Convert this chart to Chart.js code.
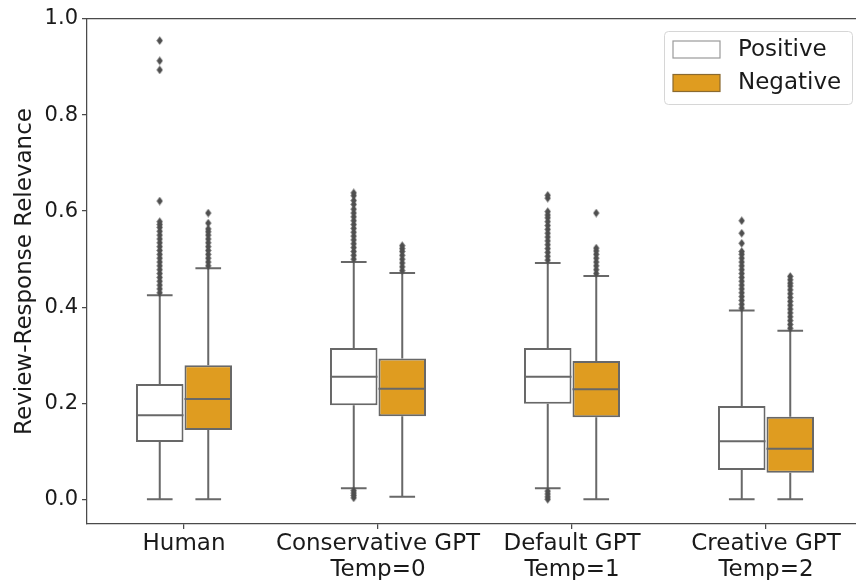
<!DOCTYPE html>
<html>
<head>
<meta charset="utf-8">
<script src="https://cdn.jsdelivr.net/npm/chart.js@4"></script>
<style>
  html, body { margin: 0; padding: 0; background: #fff; overflow: hidden; }
  #wrap { width: 866px; height: 580px; }
</style>
</head>
<body>
<div id="wrap"><canvas id="chart"></canvas></div>
<script>
// Kategorier och grupper
const categories = ['Human', ['Conservative GPT', 'Temp=0'], ['Default GPT', 'Temp=1'], ['Creative GPT', 'Temp=2']];
const hues = ['Positive', 'Negative'];
const yTicks = [0.0, 0.2, 0.4, 0.6, 0.8, 1.0];

// Positive: kvartiler, median och morrhår
const posQ1  = [0.119, 0.196, 0.199, 0.061];
const posMed = [0.175, 0.255, 0.255, 0.121];
const posQ3  = [0.240, 0.315, 0.315, 0.194];
const posLo  = [0.000, 0.023, 0.023, 0.000];
const posHi  = [0.425, 0.494, 0.492, 0.393];

// Negative
const negQ1  = [0.144, 0.173, 0.171, 0.055];
const negMed = [0.209, 0.230, 0.229, 0.105];
const negQ3  = [0.279, 0.293, 0.288, 0.172];
const negLo  = [0.000, 0.005, 0.000, 0.000];
const negHi  = [0.481, 0.471, 0.465, 0.351];

// Avvikare (uppskattade ur bilden)
const humanPosOut = [0.430, 0.438, 0.446, 0.454, 0.462, 0.470, 0.478, 0.486, 0.494, 0.502, 0.510, 0.518, 0.526, 0.534, 0.542, 0.550, 0.558, 0.566, 0.572, 0.578, 0.621, 0.894, 0.913, 0.955];
const humanNegOut = [0.486, 0.494, 0.502, 0.510, 0.518, 0.526, 0.534, 0.542, 0.550, 0.557, 0.563, 0.575, 0.596];
const consPosOut  = [0.003, 0.008, 0.013, 0.018, 0.500, 0.508, 0.516, 0.524, 0.532, 0.540, 0.548, 0.556, 0.564, 0.572, 0.580, 0.588, 0.596, 0.604, 0.614, 0.622, 0.632, 0.638];
const consNegOut  = [0.476, 0.484, 0.492, 0.500, 0.508, 0.516, 0.522, 0.528];
const defPosOut   = [0.000, 0.005, 0.011, 0.017, 0.498, 0.506, 0.514, 0.522, 0.530, 0.538, 0.546, 0.554, 0.562, 0.570, 0.578, 0.586, 0.592, 0.599, 0.627, 0.633];
const defNegOut   = [0.470, 0.478, 0.486, 0.494, 0.502, 0.510, 0.517, 0.523, 0.596];
const crePosOut   = [0.398, 0.406, 0.414, 0.422, 0.430, 0.438, 0.446, 0.454, 0.462, 0.470, 0.478, 0.486, 0.494, 0.502, 0.510, 0.516, 0.533, 0.554, 0.580];
const creNegOut   = [0.356, 0.364, 0.372, 0.380, 0.388, 0.396, 0.404, 0.412, 0.420, 0.428, 0.436, 0.444, 0.450, 0.457, 0.464];

const posOut = [humanPosOut, consPosOut, defPosOut, crePosOut];
const negOut = [humanNegOut, consNegOut, defNegOut, creNegOut];

const FONT = 'DejaVu Sans';
const lineGray = '#686868';
const flierGray = '#4f4f4f';
const spineColor = '#4a4a4a';
const textColor = '#1a1a1a';
const orange = '#df9c20';

// Tunn diamant för avvikare
function makeDiamond() {
  const c = document.createElement('canvas');
  c.width = 7; c.height = 9;
  const g = c.getContext('2d');
  g.fillStyle = flierGray;
  g.beginPath();
  g.moveTo(3.5, 0.3); g.lineTo(6.6, 4.5); g.lineTo(3.5, 8.7); g.lineTo(0.4, 4.5);
  g.closePath(); g.fill();
  return c;
}
const diamond = makeDiamond();

const stats = [
  { lo: posLo, q1: posQ1, med: posMed, q3: posQ3, hi: posHi, out: posOut },
  { lo: negLo, q1: negQ1, med: negMed, q3: negQ3, hi: negHi, out: negOut }
];

// Morrhår, medianer, avvikare och legend ritas via skalorna
const boxParts = {
  id: 'boxParts',
  beforeDatasetsDraw(chart) {
    const ctx = chart.ctx, y = chart.scales.y;
    ctx.save();
    ctx.strokeStyle = lineGray;
    ctx.lineWidth = 2;
    stats.forEach((s, d) => {
      chart.getDatasetMeta(d).data.forEach((bar, i) => {
        const cx = bar.x, half = bar.width * 0.27;
        const yLo = y.getPixelForValue(s.lo[i]), yHi = y.getPixelForValue(s.hi[i]);
        ctx.beginPath();
        ctx.moveTo(cx, y.getPixelForValue(s.q3[i])); ctx.lineTo(cx, yHi);
        ctx.moveTo(cx - half, yHi); ctx.lineTo(cx + half, yHi);
        ctx.moveTo(cx, y.getPixelForValue(s.q1[i])); ctx.lineTo(cx, yLo);
        ctx.moveTo(cx - half, yLo); ctx.lineTo(cx + half, yLo);
        ctx.stroke();
      });
    });
    ctx.restore();
  },
  afterDatasetsDraw(chart) {
    const ctx = chart.ctx, y = chart.scales.y;
    ctx.save();
    ctx.strokeStyle = lineGray;
    ctx.lineWidth = 2;
    stats.forEach((s, d) => {
      chart.getDatasetMeta(d).data.forEach((bar, i) => {
        const ym = y.getPixelForValue(s.med[i]);
        ctx.beginPath();
        ctx.moveTo(bar.x - bar.width / 2, ym); ctx.lineTo(bar.x + bar.width / 2, ym);
        ctx.stroke();
        s.out[i].forEach(v => {
          ctx.drawImage(diamond, bar.x - diamond.width / 2, y.getPixelForValue(v) - diamond.height / 2);
        });
      });
    });
    ctx.restore();
  },
  afterDraw(chart) {
    const ctx = chart.ctx, area = chart.chartArea;
    const w = 188, h = 73;
    const x0 = area.right - 11 - w, y0 = area.top + 12;
    ctx.save();
    ctx.fillStyle = 'rgba(255,255,255,0.8)';
    ctx.strokeStyle = '#d6d6d6';
    ctx.lineWidth = 1;
    ctx.beginPath();
    ctx.roundRect(x0 + 0.5, y0 + 0.5, w, h, 4);
    ctx.fill(); ctx.stroke();
    const fills = ['#ffffff', orange];
    ctx.font = '23px "' + FONT + '"';
    ctx.textBaseline = 'middle';
    hues.forEach((name, k) => {
      const py = y0 + 10 + k * 33.5;
      ctx.fillStyle = fills[k];
      ctx.fillRect(x0 + 9, py, 47, 17);
      ctx.strokeStyle = k === 0 ? '#9a9a9a' : '#8a6a30';
      ctx.lineWidth = 1.2;
      ctx.strokeRect(x0 + 9, py, 47, 17);
      ctx.fillStyle = textColor;
      ctx.fillText(name, x0 + 74, py + 9);
    });
    ctx.restore();
  }
};

new Chart(document.getElementById('chart'), {
  type: 'bar',
  data: {
    labels: categories,
    datasets: [
      {
        label: hues[0],
        data: posQ1.map((v, i) => [v, posQ3[i]]),
        backgroundColor: '#ffffff',
        borderColor: lineGray,
        borderWidth: 2,
        borderSkipped: false,
        categoryPercentage: 0.5,
        barPercentage: 0.98
      },
      {
        label: hues[1],
        data: negQ1.map((v, i) => [v, negQ3[i]]),
        backgroundColor: orange,
        borderColor: lineGray,
        borderWidth: 2,
        borderSkipped: false,
        categoryPercentage: 0.5,
        barPercentage: 0.98
      }
    ]
  },
  options: {
    responsive: true,
    maintainAspectRatio: false,
    animation: false,
    layout: { padding: { top: 19, right: 3, left: 0, bottom: 0 } },
    plugins: { legend: { display: false }, tooltip: { enabled: false } },
    scales: {
      x: {
        offset: true,
        grid: { display: true, drawOnChartArea: false, offset: false, tickLength: 5, color: spineColor, lineWidth: 1.25 },
        border: { display: true, color: spineColor, width: 1.25 },
        ticks: { color: textColor, padding: 2, maxRotation: 0, autoSkip: false, font: { family: FONT, size: 23, lineHeight: 1.13 } },
        afterFit(scale) { scale.height = 56; }
      },
      top: {
        type: 'linear',
        position: 'top',
        min: 0,
        max: 1,
        grid: { display: false },
        ticks: { display: false },
        border: { display: true, color: spineColor, width: 1.25 },
        afterFit(scale) { scale.height = 0; }
      },
      y: {
        min: -0.0515,
        max: 1.0,
        afterBuildTicks(axis) { axis.ticks = yTicks.map(v => ({ value: v })); },
        grid: { display: true, drawOnChartArea: false, tickLength: 5, color: spineColor, lineWidth: 1.25 },
        border: { display: true, color: spineColor, width: 1.25 },
        ticks: {
          color: textColor, padding: 4,
          font: { family: FONT, size: 21 },
          callback: v => v.toFixed(1)
        },
        title: {
          display: true,
          text: 'Review-Response Relevance',
          color: textColor,
          font: { family: FONT, size: 23 },
          padding: { top: 11, bottom: 0 }
        },
        afterFit(scale) { scale.width = 87; }
      }
    }
  },
  plugins: [boxParts]
});
</script>
</body>
</html>
